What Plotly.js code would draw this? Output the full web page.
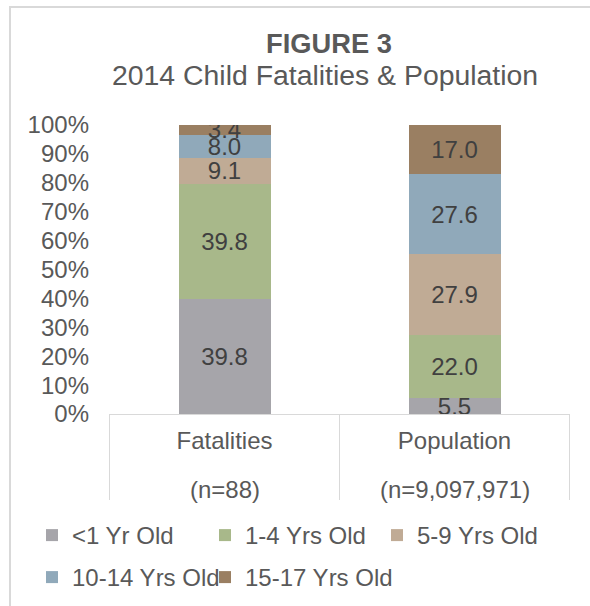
<!DOCTYPE html>
<html>
<head>
<meta charset="utf-8">
<script src="https://cdn.plot.ly/plotly-3.0.1.min.js"></script>
<style>
  html, body { margin: 0; padding: 0; background: #ffffff; }
  #wrap { position: relative; width: 590px; height: 606px; }
  #chart { position: absolute; left: 0; top: 0; width: 590px; height: 606px; }
  #frame { position: absolute; left: 9px; top: 6px; width: 600px; height: 620px;
           border-left: 2px solid #d9d9d9; border-top: 2px solid #d9d9d9;
           pointer-events: none; }
</style>
</head>
<body>
<div id="wrap">
  <div id="chart"></div>
  <div id="frame"></div>
</div>
<script>
// ---- data ----
const categories = ["Fatalities", "Population"];
const sampleSizes = ["(n=88)", "(n=9,097,971)"];
const ageGroups = ["<1 Yr Old", "1-4 Yrs Old", "5-9 Yrs Old", "10-14 Yrs Old", "15-17 Yrs Old"];
const under1    = [39.8, 5.5];
const age1to4   = [39.8, 22.0];
const age5to9   = [9.1, 27.9];
const age10to14 = [8.0, 27.6];
const age15to17 = [3.4, 17.0];
const yTicks = [0, 10, 20, 30, 40, 50, 60, 70, 80, 90, 100];
const titleText = "FIGURE 3";
const subtitleText = "2014 Child Fatalities & Population";

// ---- style ----
const FONT = "Liberation Sans, Arial, Helvetica, sans-serif";
const TXT = "#595959";
const colors = ["#a6a5aa", "#a8b88a", "#c0ab95", "#90a9ba", "#9a7f62"];
const seriesValues = [under1, age1to4, age5to9, age10to14, age15to17];

const W = 590, H = 606;
const plotL = 109, plotR = 570, plotT = 125, plotB = 414;
const plotH = plotB - plotT;

// legend item placement (text start x, row centre y) in pixels
const legendTextX = [72, 245, 417, 72, 245];
const legendRowY  = [535.5, 535.5, 535.5, 577.5, 577.5];
const legendIds = ["legend", "legend2", "legend3", "legend4", "legend5"];

const traces = seriesValues.map((vals, i) => ({
  type: "bar",
  name: ageGroups[i],
  x: categories,
  y: vals,
  marker: { color: colors[i], line: { width: 0 } },
  texttemplate: "%{y:.1f}",
  textposition: "inside",
  insidetextanchor: "middle",
  textangle: 0,
  textfont: { family: FONT, size: 24, color: "#404040" },
  cliponaxis: true,
  legend: legendIds[i],
  hoverinfo: "skip"
}));

const shapes = [-0.5, 0.5, 1.5].map(xv => ({
  type: "line", xref: "x", yref: "paper",
  x0: xv, x1: xv, y0: 0, y1: -(500 - plotB) / plotH,
  line: { color: "#d9d9d9", width: 1 }
}));

const annotations = [
  {
    text: subtitleText, showarrow: false,
    xref: "paper", yref: "paper",
    x: (325 - plotL) / (plotR - plotL), y: (plotB - 75) / plotH,
    xanchor: "center", yanchor: "middle",
    font: { family: FONT, size: 28.4, color: TXT }
  }
].concat(categories.map((c, i) => ({
  text: sampleSizes[i], showarrow: false,
  xref: "x", yref: "paper",
  x: c, y: -(489 - plotB) / plotH,
  xanchor: "center", yanchor: "middle",
  font: { family: FONT, size: 24, color: TXT }
})));

const layout = {
  width: W, height: H,
  margin: { l: plotL, r: W - plotR, t: plotT, b: H - plotB, pad: 0 },
  paper_bgcolor: "#ffffff",
  plot_bgcolor: "#ffffff",
  font: { family: FONT, size: 24, color: TXT },
  title: {
    text: "<b>" + titleText + "</b>",
    xref: "container", yref: "container",
    x: 329 / W, xanchor: "center",
    y: 1 - 43 / H, yanchor: "middle",
    font: { family: FONT, size: 27.3, color: TXT }
  },
  barmode: "stack",
  bargap: 0.6,
  uniformtext: { mode: "show", minsize: 24 },
  showlegend: true,
  xaxis: {
    type: "category",
    showgrid: false, zeroline: false,
    showline: true, linecolor: "#d9d9d9", linewidth: 1,
    ticks: "",
    ticklabelstandoff: 5,
    tickfont: { family: FONT, size: 24, color: TXT },
    fixedrange: true
  },
  yaxis: {
    range: [0, 100],
    tickvals: yTicks,
    ticktext: yTicks.map(v => v + "%"),
    showgrid: false, zeroline: false, showline: false,
    ticks: "",
    ticklabelstandoff: 19,
    tickfont: { family: FONT, size: 24, color: TXT },
    fixedrange: true
  },
  shapes: shapes,
  annotations: annotations,
  hovermode: false
};

legendIds.forEach((id, i) => {
  layout[id] = {
    orientation: "h",
    xref: "container", yref: "container",
    x: (legendTextX[i] - 40) / W, xanchor: "left",
    y: 1 - legendRowY[i] / H, yanchor: "middle",
    font: { family: FONT, size: 24, color: TXT },
    bgcolor: "rgba(0,0,0,0)",
    borderwidth: 0
  };
});

Plotly.newPlot("chart", traces, layout, { staticPlot: true, displayModeBar: false });
</script>
</body>
</html>
